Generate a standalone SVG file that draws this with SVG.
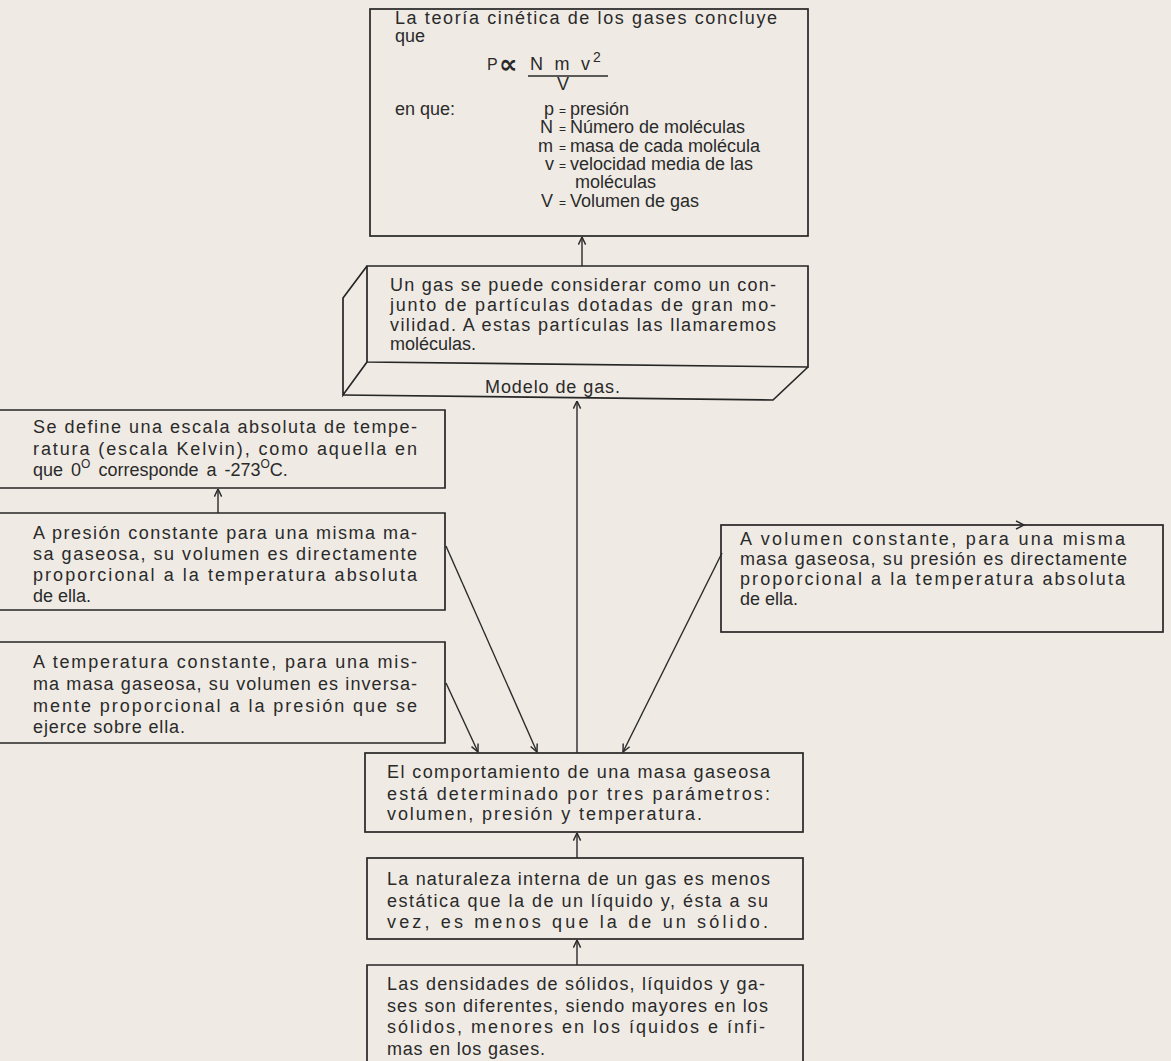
<svg xmlns="http://www.w3.org/2000/svg" width="1171" height="1061" viewBox="0 0 1171 1061">
<style>
.bg{fill:#efebe4}
.box{fill:none;stroke:#262626;stroke-width:1.7;stroke-linejoin:miter}
.t{font-family:"Liberation Sans","DejaVu Sans",Arial,sans-serif;font-size:18px;fill:#2a2a2a}
.sm{font-size:12px}
.conn{fill:none;stroke:#2a2a2a;stroke-width:1.4}
</style>
<defs>
<marker id="ah" viewBox="0 0 10 10" refX="9.5" refY="5" markerWidth="9" markerHeight="9" markerUnits="userSpaceOnUse" orient="auto">
<path d="M1,1 L9.5,5 L1,9" fill="none" stroke="#2a2a2a" stroke-width="1.6"/>
</marker>
</defs>
<rect class="bg" x="0" y="0" width="1171" height="1061"/>

<g id="node-teoria">
<rect class="box" x="370" y="9" width="438" height="227"/>
<text class="t" x="395" y="24" textLength="382">La teoría cinética de los gases concluye</text>
<text class="t" x="395" y="42">que</text>
<text class="t" x="487" y="70" style="font-size:16px">P</text>
<text class="t" x="499" y="73" style="font-size:26px;font-weight:bold">∝</text>
<text class="t" x="530" y="70" textLength="60">N m v</text>
<text class="t" x="593" y="62" style="font-size:14px">2</text>
<line x1="528" y1="76" x2="608" y2="76" stroke="#2a2a2a" stroke-width="1.4"/>
<text class="t" x="557" y="90">V</text>
<text class="t" x="395" y="115">en que:</text>
<text class="t" y="115"><tspan x="544">p</tspan> <tspan x="559" class="sm">=</tspan> <tspan x="570">presión</tspan></text>
<text class="t" y="133"><tspan x="540">N</tspan> <tspan x="559" class="sm">=</tspan> <tspan x="570">Número de moléculas</tspan></text>
<text class="t" y="152"><tspan x="538">m</tspan> <tspan x="559" class="sm">=</tspan> <tspan x="570">masa de cada molécula</tspan></text>
<text class="t" y="170"><tspan x="545">v</tspan> <tspan x="559" class="sm">=</tspan> <tspan x="570">velocidad media de las</tspan></text>
<text class="t" x="575" y="188">moléculas</text>
<text class="t" y="207"><tspan x="541">V</tspan> <tspan x="559" class="sm">=</tspan> <tspan x="570">Volumen de gas</tspan></text>
</g>

<g id="node-gas">
<path class="box" d="M367,266 H808 V367 L367,362 Z"/>
<path class="box" d="M367,266 L343,298 V395 L367,362"/>
<path class="box" d="M343,395 L773,400 L808,367"/>
<text class="t" x="390" y="291" textLength="386">Un gas se puede considerar como un con-</text>
<text class="t" x="390" y="311" textLength="386">junto de partículas dotadas de gran mo-</text>
<text class="t" x="390" y="331" textLength="386">vilidad. A estas partículas las llamaremos</text>
<text class="t" x="390" y="350">moléculas.</text>
<text class="t" x="485" y="393" textLength="135">Modelo de gas.</text>
</g>

<g id="node-kelvin">
<path class="box" d="M-5,410 H445 V488 H-5"/>
<text class="t" x="33" y="433" textLength="384">Se define una escala absoluta de tempe-</text>
<text class="t" x="33" y="455" textLength="384">ratura (escala Kelvin), como aquella en</text>
<text class="t" x="33" y="476" word-spacing="3">que 0<tspan dy="-8" font-size="12">O</tspan><tspan dy="8"> corresponde a -273</tspan><tspan dy="-8" font-size="12">O</tspan><tspan dy="8">C.</tspan></text>
</g>

<g id="node-presion">
<path class="box" d="M-5,513 H445 V610 H-5"/>
<text class="t" x="33" y="539" textLength="384">A presión constante para una misma ma-</text>
<text class="t" x="33" y="560" textLength="384">sa gaseosa, su volumen es directamente</text>
<text class="t" x="33" y="581" textLength="384">proporcional a la temperatura absoluta</text>
<text class="t" x="33" y="602">de ella.</text>
</g>

<g id="node-temperatura">
<path class="box" d="M-5,642 H445 V743 H-5"/>
<text class="t" x="33" y="668" textLength="384">A temperatura constante, para una mis-</text>
<text class="t" x="33" y="690" textLength="384">ma masa gaseosa, su volumen es inversa-</text>
<text class="t" x="33" y="712" textLength="384">mente proporcional a la presión que se</text>
<text class="t" x="33" y="733" textLength="152">ejerce sobre ella.</text>
</g>

<g id="node-volumen">
<rect class="box" x="721" y="525" width="442" height="107"/>
<text class="t" x="740" y="545" textLength="385">A volumen constante, para una misma</text>
<text class="t" x="740" y="565" textLength="387">masa gaseosa, su presión es directamente</text>
<text class="t" x="740" y="585" textLength="385">proporcional a la temperatura absoluta</text>
<text class="t" x="740" y="605">de ella.</text>
</g>

<g id="node-comportamiento">
<rect class="box" x="365" y="753" width="438" height="79"/>
<text class="t" x="387" y="778" textLength="383">El comportamiento de una masa gaseosa</text>
<text class="t" x="387" y="800" textLength="383">está determinado por tres parámetros:</text>
<text class="t" x="387" y="820" textLength="315">volumen, presión y temperatura.</text>
</g>

<g id="node-naturaleza">
<rect class="box" x="367" y="858" width="436" height="81"/>
<text class="t" x="387" y="885" textLength="383">La naturaleza interna de un gas es menos</text>
<text class="t" x="387" y="907" textLength="381">estática que la de un líquido y, ésta a su</text>
<text class="t" x="387" y="928" textLength="381">vez, es menos que la de un sólido.</text>
</g>

<g id="node-densidades">
<path class="box" d="M367,1070 V965 H803 V1070"/>
<text class="t" x="387" y="990" textLength="378">Las densidades de sólidos, líquidos y ga-</text>
<text class="t" x="387" y="1012" textLength="381">ses son diferentes, siendo mayores en los</text>
<text class="t" x="387" y="1033" textLength="378">sólidos, menores en los íquidos e ínfi-</text>
<text class="t" x="387" y="1055" textLength="158">mas en los gases.</text>
</g>

<g id="connectors">
<line class="conn" x1="582" y1="266" x2="582" y2="237" marker-end="url(#ah)"/>
<line class="conn" x1="577" y1="753" x2="577" y2="401" marker-end="url(#ah)"/>
<line class="conn" x1="218" y1="513" x2="218" y2="489" marker-end="url(#ah)"/>
<line class="conn" x1="577" y1="858" x2="577" y2="833" marker-end="url(#ah)"/>
<line class="conn" x1="577" y1="965" x2="577" y2="940" marker-end="url(#ah)"/>
<line class="conn" x1="446" y1="546" x2="537" y2="752" marker-end="url(#ah)"/>
<line class="conn" x1="446" y1="683" x2="478" y2="752" marker-end="url(#ah)"/>
<line class="conn" x1="722" y1="553" x2="623" y2="752" marker-end="url(#ah)"/>
<path class="conn" d="M1016,521 L1024,525 L1016,529"/>
</g>
</svg>
